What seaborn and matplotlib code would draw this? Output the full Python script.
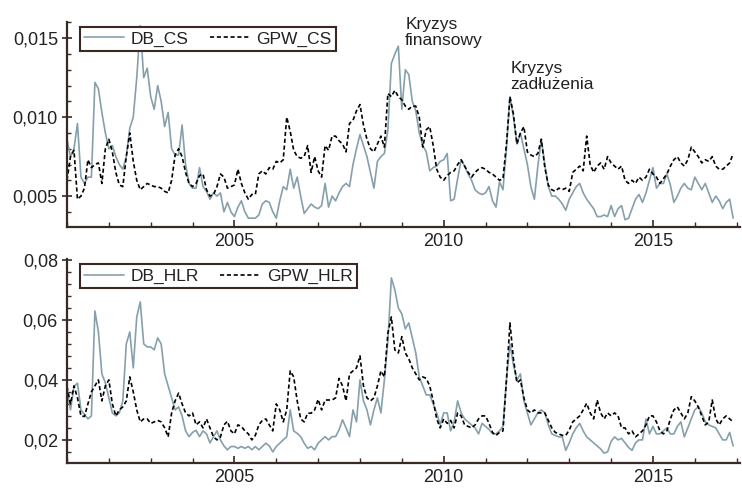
import numpy as np
import pandas as pd
import matplotlib
matplotlib.use("Agg")
import matplotlib.pyplot as plt
from matplotlib.ticker import MultipleLocator, FuncFormatter
import seaborn as sns

# ---------------- data (monthly, Jan 2001 - Dec 2016) ----------------
start_year = 2001
db_cs = [
    0.0086, 0.0075, 0.0080, 0.0096, 0.0062, 0.0058, 0.0062, 0.0062, 0.0122, 0.0118, 0.0103, 0.0090,
    0.0080, 0.0082, 0.0075, 0.0070, 0.0067, 0.0075, 0.0093, 0.0100, 0.0125, 0.0158, 0.0125, 0.0131,
    0.0113, 0.0105, 0.0120, 0.0110, 0.0094, 0.0103, 0.0080, 0.0076, 0.0076, 0.0095, 0.0070, 0.0058,
    0.0055, 0.0055, 0.0068, 0.0056, 0.0053, 0.0048, 0.0052, 0.0050, 0.0052, 0.0040, 0.0046, 0.0040,
    0.0037, 0.0043, 0.0047, 0.0040, 0.0036, 0.0036, 0.0036, 0.0038, 0.0045, 0.0047, 0.0046, 0.0040,
    0.0036, 0.0047, 0.0056, 0.0054, 0.0067, 0.0055, 0.0062, 0.0050, 0.0039, 0.0042, 0.0045, 0.0043,
    0.0042, 0.0044, 0.0058, 0.0043, 0.0050, 0.0047, 0.0052, 0.0056, 0.0058, 0.0056, 0.0070, 0.0080,
    0.0089, 0.0082, 0.0075, 0.0065, 0.0055, 0.0072, 0.0075, 0.0077, 0.0092, 0.0134, 0.0140, 0.0145,
    0.0105, 0.0130, 0.0127, 0.0110, 0.0104, 0.0090, 0.0082, 0.0078, 0.0066, 0.0068, 0.0069, 0.0072,
    0.0073, 0.0077, 0.0047, 0.0048, 0.0061, 0.0073, 0.0069, 0.0064, 0.0060, 0.0054, 0.0052, 0.0051,
    0.0052, 0.0056, 0.0047, 0.0043, 0.0059, 0.0054, 0.0080, 0.0113, 0.0100, 0.0083, 0.0090, 0.0080,
    0.0070, 0.0056, 0.0048, 0.0069, 0.0086, 0.0070, 0.0056, 0.0050, 0.0050, 0.0048, 0.0045, 0.0041,
    0.0048, 0.0052, 0.0056, 0.0058, 0.0052, 0.0048, 0.0045, 0.0042, 0.0037, 0.0037, 0.0038, 0.0037,
    0.0044, 0.0037, 0.0042, 0.0044, 0.0035, 0.0036, 0.0042, 0.0048, 0.0051, 0.0046, 0.0052, 0.0060,
    0.0068, 0.0055, 0.0058, 0.0058, 0.0064, 0.0057, 0.0046, 0.0050, 0.0055, 0.0058, 0.0055, 0.0054,
    0.0062, 0.0058, 0.0054, 0.0058, 0.0052, 0.0046, 0.0050, 0.0047, 0.0042, 0.0046, 0.0048, 0.0036,
]
gpw_cs = [
    0.0060, 0.0075, 0.0079, 0.0048, 0.0050, 0.0055, 0.0073, 0.0068, 0.0070, 0.0071, 0.0058, 0.0080,
    0.0086, 0.0078, 0.0065, 0.0057, 0.0056, 0.0075, 0.0090, 0.0072, 0.0060, 0.0054, 0.0056, 0.0058,
    0.0057, 0.0056, 0.0056, 0.0055, 0.0053, 0.0052, 0.0060, 0.0076, 0.0080, 0.0075, 0.0065, 0.0058,
    0.0056, 0.0058, 0.0063, 0.0064, 0.0054, 0.0050, 0.0051, 0.0056, 0.0064, 0.0062, 0.0055, 0.0056,
    0.0057, 0.0067, 0.0058, 0.0052, 0.0048, 0.0051, 0.0051, 0.0064, 0.0066, 0.0064, 0.0068, 0.0067,
    0.0072, 0.0071, 0.0073, 0.0100, 0.0091, 0.0079, 0.0075, 0.0074, 0.0075, 0.0082, 0.0065, 0.0075,
    0.0066, 0.0062, 0.0082, 0.0079, 0.0088, 0.0088, 0.0085, 0.0083, 0.0078, 0.0096, 0.0098, 0.0104,
    0.0108, 0.0095, 0.0086, 0.0080, 0.0078, 0.0083, 0.0088, 0.0081, 0.0115, 0.0113, 0.0117, 0.0113,
    0.0111, 0.0107, 0.0105, 0.0107, 0.0107, 0.0100, 0.0081, 0.0092, 0.0094, 0.0082, 0.0067, 0.0062,
    0.0060, 0.0063, 0.0065, 0.0066, 0.0070, 0.0073, 0.0069, 0.0065, 0.0062, 0.0065, 0.0067, 0.0068,
    0.0067, 0.0065, 0.0064, 0.0062, 0.0060, 0.0061, 0.0083, 0.0113, 0.0102, 0.0083, 0.0090, 0.0094,
    0.0078, 0.0076, 0.0075, 0.0077, 0.0086, 0.0068, 0.0057, 0.0054, 0.0053, 0.0055, 0.0054, 0.0055,
    0.0053, 0.0065, 0.0067, 0.0069, 0.0066, 0.0088, 0.0070, 0.0065, 0.0069, 0.0071, 0.0067, 0.0075,
    0.0071, 0.0069, 0.0067, 0.0069, 0.0060, 0.0058, 0.0060, 0.0058, 0.0062, 0.0060, 0.0062, 0.0067,
    0.0064, 0.0062, 0.0058, 0.0061, 0.0064, 0.0069, 0.0073, 0.0075, 0.0071, 0.0069, 0.0073, 0.0081,
    0.0078, 0.0075, 0.0071, 0.0073, 0.0072, 0.0075, 0.0069, 0.0067, 0.0067, 0.0069, 0.0071, 0.0077,
]
db_hlr = [
    0.0367, 0.0300, 0.0378, 0.0389, 0.0300, 0.0285, 0.0270, 0.0280, 0.0630, 0.0560, 0.0420, 0.0390,
    0.0340, 0.0290, 0.0280, 0.0290, 0.0330, 0.0520, 0.0560, 0.0440, 0.0610, 0.0660, 0.0520, 0.0510,
    0.0510, 0.0500, 0.0540, 0.0520, 0.0420, 0.0380, 0.0340, 0.0300, 0.0310, 0.0280, 0.0230, 0.0211,
    0.0225, 0.0232, 0.0211, 0.0230, 0.0220, 0.0190, 0.0211, 0.0230, 0.0200, 0.0180, 0.0167, 0.0178,
    0.0178, 0.0172, 0.0178, 0.0172, 0.0178, 0.0167, 0.0178, 0.0167, 0.0178, 0.0189, 0.0180, 0.0160,
    0.0178, 0.0189, 0.0200, 0.0211, 0.0300, 0.0230, 0.0222, 0.0211, 0.0189, 0.0172, 0.0178, 0.0167,
    0.0189, 0.0200, 0.0211, 0.0200, 0.0211, 0.0211, 0.0233, 0.0267, 0.0240, 0.0211, 0.0300, 0.0260,
    0.0400, 0.0330, 0.0300, 0.0250, 0.0300, 0.0340, 0.0290, 0.0400, 0.0530, 0.0740, 0.0700, 0.0640,
    0.0620, 0.0570, 0.0590, 0.0540, 0.0490, 0.0410, 0.0380, 0.0350, 0.0350, 0.0320, 0.0290, 0.0250,
    0.0290, 0.0290, 0.0230, 0.0260, 0.0330, 0.0290, 0.0270, 0.0260, 0.0250, 0.0240, 0.0220, 0.0255,
    0.0245, 0.0235, 0.0220, 0.0220, 0.0230, 0.0245, 0.0400, 0.0520, 0.0450, 0.0400, 0.0420, 0.0330,
    0.0290, 0.0250, 0.0270, 0.0290, 0.0300, 0.0290, 0.0250, 0.0220, 0.0215, 0.0210, 0.0210, 0.0165,
    0.0190, 0.0220, 0.0240, 0.0255, 0.0230, 0.0210, 0.0200, 0.0190, 0.0180, 0.0170, 0.0156, 0.0160,
    0.0195, 0.0210, 0.0200, 0.0205, 0.0190, 0.0175, 0.0165, 0.0190, 0.0200, 0.0200, 0.0270, 0.0220,
    0.0245, 0.0220, 0.0220, 0.0230, 0.0240, 0.0220, 0.0220, 0.0245, 0.0260, 0.0210, 0.0240, 0.0270,
    0.0300, 0.0310, 0.0290, 0.0260, 0.0250, 0.0245, 0.0240, 0.0220, 0.0200, 0.0200, 0.0225, 0.0180,
]
gpw_hlr = [
    0.0378, 0.0320, 0.0380, 0.0340, 0.0280, 0.0278, 0.0320, 0.0360, 0.0380, 0.0400, 0.0330, 0.0380,
    0.0400, 0.0320, 0.0280, 0.0300, 0.0310, 0.0330, 0.0410, 0.0360, 0.0300, 0.0260, 0.0270, 0.0270,
    0.0255, 0.0260, 0.0265, 0.0260, 0.0240, 0.0210, 0.0290, 0.0330, 0.0356, 0.0320, 0.0290, 0.0280,
    0.0290, 0.0250, 0.0260, 0.0240, 0.0270, 0.0240, 0.0210, 0.0200, 0.0210, 0.0250, 0.0262, 0.0230,
    0.0220, 0.0250, 0.0245, 0.0230, 0.0220, 0.0200, 0.0215, 0.0250, 0.0265, 0.0270, 0.0250, 0.0230,
    0.0320, 0.0300, 0.0260, 0.0300, 0.0430, 0.0410, 0.0330, 0.0270, 0.0260, 0.0289, 0.0289, 0.0300,
    0.0335, 0.0300, 0.0333, 0.0333, 0.0333, 0.0340, 0.0405, 0.0380, 0.0330, 0.0420, 0.0430, 0.0440,
    0.0480, 0.0380, 0.0340, 0.0330, 0.0340, 0.0380, 0.0430, 0.0410, 0.0556, 0.0610, 0.0500, 0.0490,
    0.0544, 0.0490, 0.0470, 0.0440, 0.0420, 0.0400, 0.0410, 0.0405, 0.0380, 0.0330, 0.0270, 0.0240,
    0.0270, 0.0255, 0.0265, 0.0240, 0.0290, 0.0280, 0.0250, 0.0245, 0.0240, 0.0250, 0.0270, 0.0280,
    0.0280, 0.0255, 0.0225, 0.0215, 0.0225, 0.0230, 0.0400, 0.0590, 0.0470, 0.0390, 0.0400, 0.0340,
    0.0300, 0.0290, 0.0300, 0.0290, 0.0290, 0.0290, 0.0265, 0.0240, 0.0225, 0.0220, 0.0215, 0.0215,
    0.0233, 0.0260, 0.0270, 0.0280, 0.0300, 0.0322, 0.0290, 0.0270, 0.0333, 0.0290, 0.0270, 0.0290,
    0.0280, 0.0290, 0.0280, 0.0240, 0.0240, 0.0220, 0.0230, 0.0210, 0.0220, 0.0230, 0.0250, 0.0280,
    0.0280, 0.0260, 0.0230, 0.0220, 0.0230, 0.0270, 0.0300, 0.0310, 0.0290, 0.0270, 0.0290, 0.0344,
    0.0330, 0.0310, 0.0280, 0.0250, 0.0260, 0.0333, 0.0270, 0.0250, 0.0270, 0.0280, 0.0270, 0.0260,
]
labels_top = ["DB_CS", "GPW_CS"]
labels_bot = ["DB_HLR", "GPW_HLR"]
annot_fin = "Kryzys\nfinansowy"
annot_debt = "Kryzys\nzadłużenia"

# ---------------- styling ----------------
sns.set_theme(style="ticks")
plt.rcParams["font.family"] = ["Liberation Sans", "DejaVu Sans"]

gray_c = "#86a0ab"
spine_c = "#3a2824"

t = start_year + np.arange(len(db_cs)) / 12.0
df = pd.DataFrame({"t": t, "DB_CS": db_cs, "GPW_CS": gpw_cs,
                   "DB_HLR": db_hlr, "GPW_HLR": gpw_hlr})

fig = plt.figure(figsize=(7.42, 4.88), dpi=100)
W, H = 742, 488
def rect(x0, y0, x1, y1):
    return [x0 / W, 1 - y1 / H, (x1 - x0) / W, (y1 - y0) / H]

ax1 = fig.add_axes(rect(67, 22, 740, 227))
ax2 = fig.add_axes(rect(67, 259, 740, 463))

def style_axis(ax, ymaj, ymin, fmt):
    ax.set_xlim(2001, 2017.08)
    ax.xaxis.set_major_locator(MultipleLocator(5))
    ax.xaxis.set_minor_locator(MultipleLocator(1))
    ax.yaxis.set_major_locator(MultipleLocator(ymaj))
    ax.yaxis.set_minor_locator(MultipleLocator(ymin))
    ax.yaxis.set_major_formatter(FuncFormatter(lambda v, p: fmt.format(v).replace(".", ",")))
    ax.xaxis.set_major_formatter(FuncFormatter(lambda v, p: f"{int(round(v))}"))
    for s in ["top", "right"]:
        ax.spines[s].set_visible(False)
    for s in ["left", "bottom"]:
        ax.spines[s].set_color(spine_c)
        ax.spines[s].set_linewidth(1.6)
    ax.tick_params(axis="y", which="major", direction="inout", length=7, width=1.2,
                   color=spine_c, labelsize=13, pad=3, labelcolor="#222222")
    ax.tick_params(axis="y", which="minor", direction="in", length=3, width=1.0, color=spine_c)
    ax.tick_params(axis="x", which="major", direction="in", length=5, width=1.2,
                   color=spine_c, labelsize=13, pad=4, labelcolor="#222222")
    ax.tick_params(axis="x", which="minor", direction="in", length=3.5, width=1.0, color=spine_c)
    ax.set_xlabel("")
    ax.set_ylabel("")
    ax.set_facecolor("white")

# top panel
sns.lineplot(data=df, x="t", y="DB_CS", ax=ax1, color=gray_c, lw=1.2, label=labels_top[0])
sns.lineplot(data=df, x="t", y="GPW_CS", ax=ax1, color="black", lw=1.2,
             linestyle=(0, (2.5, 1.6)), label=labels_top[1])
ax1.set_ylim(0.00304, 0.01603)
style_axis(ax1, 0.005, 0.001, "{:.3f}")

# bottom panel
sns.lineplot(data=df, x="t", y="DB_HLR", ax=ax2, color=gray_c, lw=1.2, label=labels_bot[0])
sns.lineplot(data=df, x="t", y="GPW_HLR", ax=ax2, color="black", lw=1.2,
             linestyle=(0, (2.5, 1.6)), label=labels_bot[1])
ax2.set_ylim(0.0123, 0.0803)
style_axis(ax2, 0.02, 0.004, "{:.2f}")

for ax, anchor in [(ax1, (0.019, 0.976)), (ax2, (0.019, 0.975))]:
    leg = ax.legend(loc="upper left", bbox_to_anchor=anchor, borderaxespad=0, ncol=2,
                    frameon=True, fancybox=False, fontsize=12.5, handlelength=2.3,
                    handletextpad=0.4, columnspacing=1.2, borderpad=0.25)
    fr = leg.get_frame()
    fr.set_edgecolor(spine_c)
    fr.set_linewidth(1.5)
    fr.set_facecolor("white")
    fr.set_alpha(1)
    for txt in leg.get_texts():
        txt.set_color("#222222")

ax1.text(2009.08, 0.01635, annot_fin, fontsize=12.5, va="top", ha="left",
         linespacing=1.05, color="#222222", clip_on=False)
ax1.text(2011.6, 0.01355, annot_debt, fontsize=12.5, va="top", ha="left",
         linespacing=1.05, color="#222222", clip_on=False)

fig.savefig("out.png", dpi=100, facecolor="white")
